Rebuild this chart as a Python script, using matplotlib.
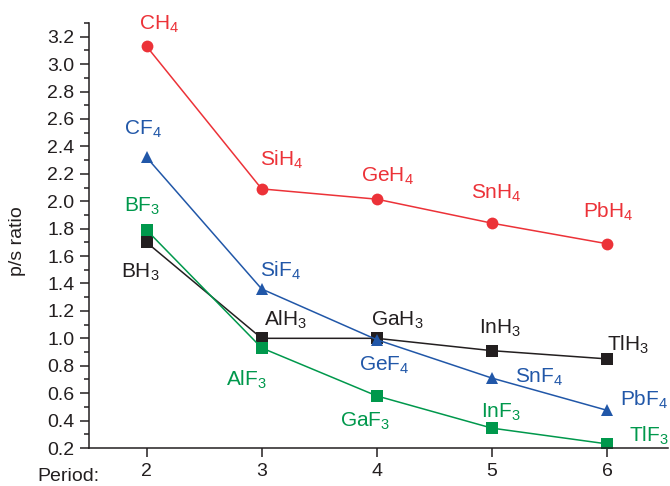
import matplotlib
matplotlib.use("Agg")
import matplotlib.pyplot as plt

plt.rcParams['font.family'] = ['Liberation Sans', 'DejaVu Sans']
plt.rcParams['mathtext.fontset'] = 'custom'
plt.rcParams['mathtext.rm'] = 'Liberation Sans'

# dane
okresy = [2, 3, 4, 5, 6]

hydridy4 = [3.13, 2.09, 2.015, 1.84, 1.69]
fluorki4 = [2.32, 1.36, 0.99, 0.71, 0.475]
hydridy3 = [1.70, 1.00, 1.00, 0.91, 0.85]
fluorki3 = [1.79, 0.93, 0.58, 0.345, 0.23]

nazwy_h4 = ['CH$_4$', 'SiH$_4$', 'GeH$_4$', 'SnH$_4$', 'PbH$_4$']
nazwy_f4 = ['CF$_4$', 'SiF$_4$', 'GeF$_4$', 'SnF$_4$', 'PbF$_4$']
nazwy_h3 = ['BH$_3$', 'AlH$_3$', 'GaH$_3$', 'InH$_3$', 'TlH$_3$']
nazwy_f3 = ['BF$_3$', 'AlF$_3$', 'GaF$_3$', 'InF$_3$', 'TlF$_3$']

yticks = [0.2, 0.4, 0.6, 0.8, 1.0, 1.2, 1.4, 1.6, 1.8, 2.0, 2.2, 2.4, 2.6, 2.8, 3.0, 3.2]

# przesuniecia podpisow (piksele, srodek / linia bazowa)
off_h4 = [(13, 17), (20, 23), (11, 18), (4, 25), (1, 26)]
off_f4 = [(-4, 23), (19, 13), (8, -31), (47, -4), (37, 5)]
off_h3 = [(-6, -35), (24, 13), (21, 13), (8, 17), (21, 8)]
off_f3 = [(-4, 19), (-15, -37), (-12, -30), (9, 11), (42, 2)]

czerwony = '#ec3238'
niebieski = '#2157a8'
zielony = '#00984c'
czarny = '#231f20'

ftsize = 15
ftticks = 14
lwd = 1.1

fig = plt.figure(figsize=(6.7, 4.86), dpi=100)
ax = fig.add_axes([89/670, 38/486, 579/670, 425/486])

seria = [
    (hydridy3, nazwy_h3, off_h3, czarny, 's', 8),
    (fluorki3, nazwy_f3, off_f3, zielony, 's', 8),
    (fluorki4, nazwy_f4, off_f4, niebieski, '^', 9),
    (hydridy4, nazwy_h4, off_h4, czerwony, 'o', 8.5),
]

for wart, nazwy, offs, kol, mk, ms in seria:
    ax.plot(okresy, wart, color=kol, linewidth=lwd, marker=mk, markersize=ms,
            markeredgewidth=0)
    for x, y, n, o in zip(okresy, wart, nazwy, offs):
        ax.annotate(n, xy=(x, y), xytext=o, textcoords='offset pixels',
                    ha='center', va='baseline', color=kol, fontsize=ftsize)

ax.set_xlim(1.5, 6.53)
ax.set_ylim(0.2, 3.3)

ax.spines['right'].set_visible(False)
ax.spines['top'].set_visible(False)
for s in ['left', 'bottom']:
    ax.spines[s].set_color(czarny)
    ax.spines[s].set_linewidth(1.1)

ax.set_xticks(okresy)
ax.set_yticks(yticks)
ax.set_yticks([0.3 + 0.2 * i for i in range(16)], minor=True)
ax.set_yticklabels(['%.1f' % v for v in yticks])
ax.tick_params(axis='both', which='major', direction='out', length=6.5, width=1.1,
               color=czarny, labelsize=ftticks, labelcolor=czarny, pad=4)
ax.tick_params(axis='y', which='minor', direction='out', length=3.5, width=1.1,
               color=czarny)

ax.text(-72/579, 0.487, 'p/s ratio', transform=ax.transAxes, rotation=90,
        ha='center', va='center', fontsize=ftticks, color=czarny)
ax.annotate('Period:', xy=(0, 0), xycoords='axes fraction', xytext=(-21, -28),
            textcoords='offset pixels', ha='center', va='center', fontsize=ftticks,
            color=czarny)

plt.savefig('out.png', dpi=100)
